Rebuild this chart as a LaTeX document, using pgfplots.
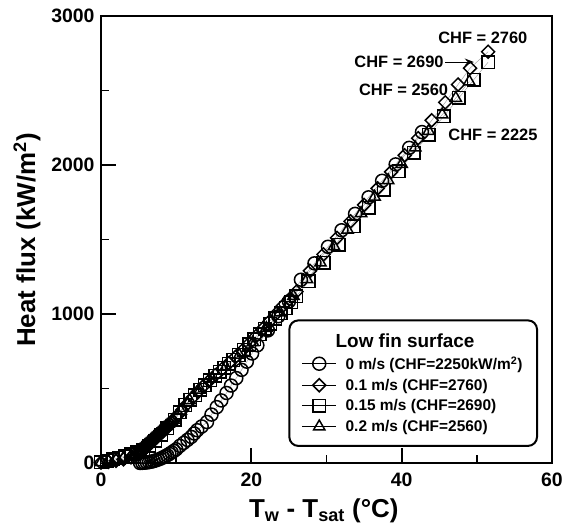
\documentclass[border=0pt]{standalone}
\usepackage{pgfplots}
\pgfplotsset{compat=1.18}
\usepackage{fontspec}
\setmainfont{Liberation Sans}
\usetikzlibrary{arrows.meta}
\tikzset{mk/.style={draw=black, fill=none, line width=1.5bp, solid}}
\newcommand\lf{\fontsize{15.5}{17}\selectfont\bfseries}
\begin{document}
\bfseries
\begin{tikzpicture}
\useasboundingbox (-101bp,-67bp) rectangle (471bp,463bp);
\begin{axis}[
  scale only axis, width=451bp, height=447bp,
  xmin=0, xmax=60, ymin=0, ymax=3000,
  xtick={0,20,40,60}, ytick={0,1000,2000,3000},
  minor x tick num=1, minor y tick num=1,
  xtick pos=left, ytick pos=left,
  tick align=inside,
  major tick length=15bp, minor tick length=8bp,
  every tick/.style={black, line width=1.8bp},
  axis line style={line width=2.2bp},
  scaled y ticks=false,
  /pgf/number format/assume math mode=true,
  /pgf/number format/1000 sep={},
  tick label style={font=\fontsize{19.5}{22}\selectfont\bfseries},
  xticklabel style={yshift=-6bp},
  yticklabel style={xshift=-3bp},
  xlabel={T\textsubscript{w} - T\textsubscript{sat} (°C)},
  ylabel={Heat flux (kW/m\textsuperscript{2})},
  label style={font=\fontsize{26}{30}\selectfont\bfseries},
  xlabel style={at={(axis description cs:0.494,-0.107)}, anchor=center},
  ylabel style={at={(axis description cs:-0.164,0.499)}, anchor=center},
  clip=false,
  legend cell align=left,
  legend style={at={(0.969,0.036)}, anchor=south east, draw=black, line width=2bp,
    rounded corners=9bp,
    inner xsep=12.5bp, inner ysep=11bp, row sep=4bp, column sep=7bp,
    nodes={inner sep=2bp}},
  legend image code/.code={
    \draw[black, line width=0.8bp, mark=none, solid] (0bp,0bp) -- (34bp,0bp);
    \draw[draw=none, every mark/.append style={fill=white}] plot coordinates {(17bp,0bp)};
  },
  every axis plot/.append style={draw=gray!70, line width=0.5bp},
]
\addlegendimage{empty legend}
\addlegendentry{\hspace*{-10bp}\fontsize{19}{22}\selectfont\bfseries Low fin surface}

% 0 m/s circles
\addplot[mark=o, mark size=6.5bp, mark options={mk}] coordinates {
(5.2,0) (5.5,1) (5.8,2) (6.1,4) (6.4,6) (6.7,9) (7.0,13) (7.3,18) (7.6,23) (7.9,29)
(8.2,36) (8.5,44) (8.8,52) (9.1,61) (9.4,71) (9.7,81) (10.0,92) (10.5,115) (11.0,135)
(11.5,155) (12.0,175) (12.4,198) (12.8,220) (13.4,245) (14.1,275) (14.7,325) (15.4,375)
(16.0,420) (16.7,470) (17.3,520) (18.0,570) (18.7,625) (19.4,680) (20.1,735) (20.8,790)
(22.2,890) (23.6,985) (25.0,1085) (26.6,1230) (28.4,1340) (30.2,1451) (32.0,1562)
(33.8,1672) (35.6,1783) (37.4,1894) (39.2,2004) (41.0,2115) (42.7,2221)
};
\addlegendentry{\lf 0 m/s (CHF=2250kW/m\textsuperscript{2})}

% 0.1 m/s diamonds
\addplot[mark=square, mark size=4.6bp, mark options={mk, rotate=45}] coordinates {
(0,3) (1.0,8) (2.0,15) (3.0,25) (4.0,38) (4.5,45)
(5.0,55) (5.2,65) (5.4,75) (5.6,84) (5.8,94) (6.0,104) (6.2,114) (6.4,124) (6.6,133)
(6.8,143) (7.0,153) (7.2,163) (7.4,173) (7.6,182) (7.8,192) (8.0,202) (8.2,212)
(8.4,222) (8.6,231) (8.8,241) (9.0,251) (9.2,261) (9.4,271) (9.6,280)
(10.2,320) (10.8,355) (11.5,398) (12.2,440) (12.9,478) (13.6,515) (14.4,552) (15.2,590)
(16.1,630) (17.0,670) (17.9,712) (18.8,755) (19.7,802) (20.6,850) (21.5,900) (22.4,950)
(23.3,1002) (24.2,1055) (25.1,1100) (26.0,1150) (27.8,1290) (29.6,1400) (31.4,1511)
(33.2,1622) (35.0,1732) (36.8,1843) (38.6,1954) (40.4,2065) (42.2,2180) (44.0,2300)
(45.8,2420) (47.5,2540) (49.1,2650) (51.5,2760)
};
\addlegendentry{\lf 0.1 m/s (CHF=2760)}

% 0.15 m/s squares
\addplot[mark=square, mark size=6.3bp, mark options={mk}] coordinates {
(0,5) (0.8,15) (1.6,25) (2.4,35) (3.2,45) (4.0,58) (4.8,72) (5.6,90) (6.4,115) (7.2,150)
(8.0,190) (8.8,235) (9.8,289) (10.5,340) (11.2,389) (11.9,425) (12.5,456) (13.2,492)
(13.8,523) (14.5,555) (15.2,585) (15.8,612) (16.4,640) (17.0,665) (17.6,691) (18.3,725)
(19.0,760) (19.7,795) (20.4,830) (21.1,865) (21.8,900) (22.5,935) (23.2,970) (23.9,1005)
(24.6,1040) (25.3,1080) (26.0,1120) (27.6,1220) (29.6,1343) (31.6,1466) (33.6,1589)
(35.6,1712) (37.6,1835) (39.6,1958) (41.6,2081) (43.6,2204) (45.6,2327) (47.6,2450)
(49.6,2573) (51.5,2690)
};
\addlegendentry{\lf 0.15 m/s (CHF=2690)}

% 0.2 m/s triangles
\addplot[mark=triangle, mark size=6.5bp, mark options={mk}] coordinates {
(0,5) (1.0,12) (2.0,22) (3.0,35) (4.0,48) (4.4,58)
(4.8,70) (5.0,79) (5.2,88) (5.4,97) (5.6,107) (5.8,116) (6.0,125) (6.2,134) (6.4,143)
(6.6,152) (6.8,162) (7.0,171) (7.2,180) (7.4,189) (7.6,198) (7.8,207) (8.0,217) (8.2,226)
(8.4,235) (8.6,244) (8.8,253) (9.0,262) (9.2,271) (9.4,281) (9.6,290)
(10.6,350) (11.8,420) (13.2,490) (14.8,565) (16.6,645) (18.4,725) (20.2,810) (22.0,905)
(23.8,1010) (25.6,1120) (27.4,1233) (29.2,1344) (31.0,1454) (32.8,1565) (34.6,1676)
(36.4,1786) (38.2,1897) (40.0,2006) (41.8,2117) (43.6,2228) (45.4,2338) (47.2,2449)
(49.0,2560)
};
\addlegendentry{\lf 0.2 m/s (CHF=2560)}

\node[font=\fontsize{16.5}{19}\selectfont\bfseries, anchor=center] at (axis cs:50.8,2852) {CHF = 2760};
\node[font=\fontsize{16.5}{19}\selectfont\bfseries, anchor=east, inner sep=0pt] at (axis cs:45.6,2691) {CHF = 2690};
\node[font=\fontsize{16.5}{19}\selectfont\bfseries, anchor=west, inner sep=0pt] at (axis cs:34.3,2503) {CHF = 2560};
\node[font=\fontsize{16.5}{19}\selectfont\bfseries, anchor=west, inner sep=0pt] at (axis cs:46.2,2201) {CHF = 2225};
\draw[-{Stealth[length=9bp,width=7bp]}, line width=1bp] (axis cs:45.8,2691) -- (axis cs:49.6,2691);
\end{axis}
\end{tikzpicture}
\end{document}
